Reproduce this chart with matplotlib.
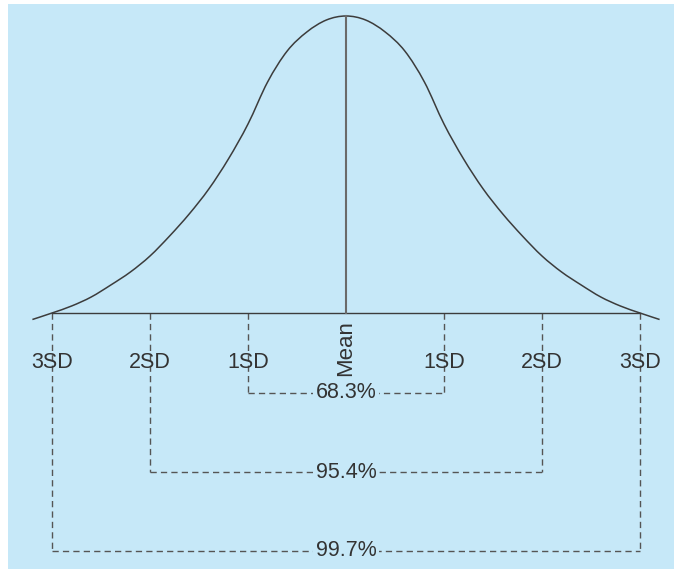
import numpy as np
import matplotlib
matplotlib.use("Agg")
import matplotlib.pyplot as plt
from matplotlib.path import Path
from matplotlib.patches import PathPatch, Rectangle

# ---- data ----
# curve position in SD units and height above the baseline (pixel-ish units)
curve_sd = [-3.2, -3.0, -2.8, -2.6, -2.4, -2.2, -2.0, -1.8, -1.6, -1.4, -1.2,
            -1.0, -0.8, -0.6, -0.4, -0.2, 0.0,
            0.2, 0.4, 0.6, 0.8, 1.0, 1.2, 1.4, 1.6, 1.8,
            2.0, 2.2, 2.4, 2.6, 2.8, 3.0, 3.2]
curve_height = [-6.5, 0, 7, 16, 28, 41, 57, 77, 99, 124, 154,
                189, 231, 262, 281, 293, 297,
                293, 281, 262, 231, 189, 154, 124, 99, 77,
                57, 41, 28, 16, 7, 0, -6.5]
sd_positions = [-3, -2, -1, 1, 2, 3]
sd_labels = ["3SD", "2SD", "1SD", "1SD", "2SD", "3SD"]
mean_label = "Mean"
bracket_sd = [1, 2, 3]
bracket_labels = ["68.3%", "95.4%", "99.7%"]

# ---- layout ----
W, H = 674, 569
fig = plt.figure(figsize=(W / 100, H / 100), dpi=100)
fig.patch.set_facecolor("white")
bg = "#c6e8f8"
fig.add_artist(Rectangle((8 / W, 0), 1 - 8 / W, (H - 4) / H, transform=fig.transFigure,
                         facecolor=bg, edgecolor="none", zorder=0))
ax = fig.add_axes([0, 0, 1, 1])
ax.set_facecolor("none")
ax.set_xlim(-346 / 98, (W - 346) / 98)
ax.set_ylim(313 - H, 313)
ax.axis("off")

ink = "#3c3c3c"
dash_c = "#555555"
txt_c = "#333333"
font = ["Liberation Sans", "DejaVu Sans"]
fs = 15.5

# smooth curve through the read points (Catmull-Rom -> cubic Bezier)
pts = np.column_stack([curve_sd, curve_height]).astype(float)
verts = [tuple(pts[0])]
codes = [Path.MOVETO]
n = len(pts)
for i in range(n - 1):
    p0 = pts[max(i - 1, 0)]
    p1 = pts[i]
    p2 = pts[i + 1]
    p3 = pts[min(i + 2, n - 1)]
    c1 = p1 + (p2 - p0) / 6.0
    c2 = p2 - (p3 - p1) / 6.0
    verts += [tuple(c1), tuple(c2), tuple(p2)]
    codes += [Path.CURVE4] * 3
ax.add_patch(PathPatch(Path(verts, codes), facecolor="none", edgecolor=ink, lw=1.1, zorder=3))

# baseline and mean line
ax.plot([-3, 3], [0, 0], color=ink, lw=1.0, zorder=3)
ax.plot([0, 0], [0, max(curve_height)], color="#6a6a6a", lw=1.5, zorder=3)

bracket_y = {1: -80, 2: -159, 3: -238}
label_y = -50

# dashed verticals and SD labels
for s, lab in zip(sd_positions, sd_labels):
    ax.plot([s, s], [0, bracket_y[abs(s)]], color=dash_c, lw=1.0,
            dashes=(4.5, 3), zorder=2)
    ax.text(s, label_y, lab, ha="center", va="center", fontsize=fs,
            family=font, color=txt_c, zorder=4)

ax.text(0, -35, mean_label, ha="center", va="center", rotation=90, fontsize=16,
        family=font, color=txt_c, zorder=4)

# brackets
for s, lab in zip(bracket_sd, bracket_labels):
    y = bracket_y[s]
    ax.plot([-s, s], [y, y], color=dash_c, lw=1.0, dashes=(4.5, 3), zorder=2)
    ax.text(0, y, lab, ha="center", va="center", fontsize=fs, family=font,
            color=txt_c, zorder=4,
            bbox=dict(boxstyle="square,pad=0.1", facecolor=bg, edgecolor="none"))

fig.savefig("out.png", dpi=100)
